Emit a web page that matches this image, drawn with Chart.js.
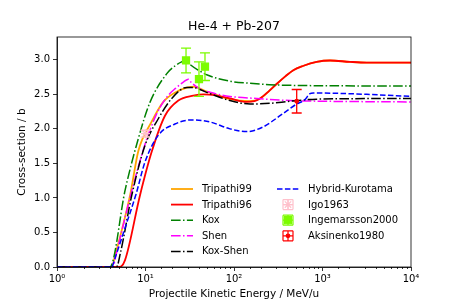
<!DOCTYPE html>
<html>
<head>
<meta charset="utf-8">
<script src="https://cdn.jsdelivr.net/npm/chart.js@4.4.0/dist/chart.umd.min.js"></script>
<style>
  body { margin: 0; background: #fff; }
  #grafico { display: block; }
</style>
</head>
<body>
<canvas id="grafico" width="457" height="305"></canvas>
<script>
// energias en MeV/u, secciones eficaces en b
const tri99E = [1, 4.15, 4.5, 6.7, 8.3, 11.7, 15.9, 22, 30, 36, 45, 60, 90, 150, 197, 250, 303, 380, 468, 600, 859, 1216, 2046, 3160, 10000];
const tri99S = [0, 0, 0.15, 1.04, 1.68, 2.10, 2.39, 2.53, 2.60, 2.61, 2.56, 2.50, 2.43, 2.40, 2.44, 2.55, 2.65, 2.76, 2.85, 2.91, 2.97, 2.99, 2.97, 2.96, 2.96];

const tri96E = [1, 5.06, 5.87, 8.67, 11.7, 16.6, 23.5, 34.7, 45, 60, 90, 139, 170, 197, 250, 303, 380, 468, 600, 859, 1216, 2046, 3160, 10000];
const tri96S = [0, 0, 0.1, 1.04, 1.66, 2.19, 2.41, 2.48, 2.50, 2.49, 2.44, 2.39, 2.40, 2.44, 2.55, 2.65, 2.76, 2.85, 2.91, 2.97, 2.99, 2.97, 2.96, 2.96];

const koxE = [1, 3.95, 5.9, 8.3, 11.2, 17.4, 22, 25.6, 28.7, 32, 39.5, 50, 90, 150, 250, 430, 10000];
const koxS = [0, 0, 1.12, 1.86, 2.38, 2.80, 2.92, 2.97, 2.99, 2.93, 2.85, 2.78, 2.69, 2.66, 2.64, 2.63, 2.62];

const shenE = [1, 4.3, 4.6, 6.8, 9.9, 13.4, 17.4, 22, 27, 30.5, 33, 41, 53.5, 90, 180, 430, 1000, 10000];
const shenS = [0, 0, 0.15, 1.04, 1.78, 2.22, 2.46, 2.59, 2.68, 2.72, 2.67, 2.58, 2.53, 2.47, 2.44, 2.41, 2.40, 2.39];

const koxShenE = [1, 4.7, 5.2, 7.0, 9.87, 14, 19.8, 29.2, 35, 41, 53.5, 90, 152, 255, 430, 859, 10000];
const koxShenS = [0, 0, 0.2, 1.04, 1.76, 2.15, 2.44, 2.60, 2.60, 2.57, 2.51, 2.41, 2.36, 2.37, 2.40, 2.43, 2.44];

const kurotamaE = [1, 4.15, 4.5, 6.1, 7.8, 9.87, 14, 21.5, 33, 53.5, 90, 139, 215, 331, 511, 631, 722, 787, 3160, 10000];
const kurotamaS = [0, 0, 0.12, 0.63, 1.05, 1.52, 1.91, 2.07, 2.13, 2.10, 2.00, 1.96, 2.03, 2.19, 2.36, 2.42, 2.51, 2.52, 2.50, 2.47];

// datos experimentales
const igoE = [10];
const igoS = [1.93];
const igoErr = [0.05];

const ingE = [28.7, 40.2, 47];
const ingS = [2.99, 2.72, 2.90];
const ingErr = [0.18, 0.25, 0.20];

const aksE = [511];
const aksS = [2.40];
const aksErr = [0.17];

const SUP = ['\u2070', '\u00b9', '\u00b2', '\u00b3', '\u2074'];
const DASHDOT = [9.6, 2.4, 1.5, 2.4];
const DASHED = [5.5, 2.4];

Chart.defaults.font.family = '"DejaVu Sans", sans-serif';
Chart.defaults.color = '#000';

function serie(label, xs, ys, color, dash, width, order) {
  return {
    label,
    data: xs.map((x, i) => ({ x, y: ys[i] })),
    borderColor: color,
    backgroundColor: color,
    borderDash: dash,
    borderWidth: width,
    pointRadius: 0,
    cubicInterpolationMode: 'monotone',
    fill: false,
    order
  };
}

function puntos(label, xs, ys, errs, color, estilo, radio, order) {
  return {
    label,
    data: xs.map((x, i) => ({ x, y: ys[i] })),
    errores: errs,
    showLine: false,
    borderColor: color,
    backgroundColor: color,
    pointStyle: estilo,
    pointRadius: radio,
    pointBorderWidth: 1.2,
    order
  };
}

const datasets = [
  serie('Tripathi99', tri99E, tri99S, '#ffa500', [], 1.8, 10),
  serie('Tripathi96', tri96E, tri96S, '#ff0000', [], 1.8, 9),
  serie('Kox', koxE, koxS, '#008000', DASHDOT, 1.5, 8),
  serie('Shen', shenE, shenS, '#ff00ff', DASHDOT, 1.5, 7),
  serie('Kox-Shen', koxShenE, koxShenS, '#000000', DASHDOT, 1.5, 6),
  serie('Hybrid-Kurotama', kurotamaE, kurotamaS, '#0000ff', DASHED, 1.5, 5),
  puntos('Igo1963', igoE, igoS, igoErr, '#ffc0cb', 'star', 4.5, 4),
  puntos('Ingemarsson2000', ingE, ingS, ingErr, '#7cfc00', 'rect', 5, 3),
  puntos('Aksinenko1980', aksE, aksS, aksErr, '#ff0000', 'circle', 1.8, 2)
];

function esDecada(v) {
  const l = Math.log10(v);
  return Math.abs(l - Math.round(l)) < 1e-9;
}

const extras = {
  id: 'extras',
  afterDatasetsDraw(chart) {
    const ctx = chart.ctx;
    const xs = chart.scales.x, ys = chart.scales.y;
    ctx.save();
    ctx.lineWidth = 1.3;
    ctx.setLineDash([]);
    chart.data.datasets.forEach(ds => {
      if (!ds.errores) return;
      ctx.strokeStyle = ds.borderColor;
      ds.data.forEach((p, j) => {
        const px = xs.getPixelForValue(p.x);
        const y1 = ys.getPixelForValue(p.y - ds.errores[j]);
        const y2 = ys.getPixelForValue(p.y + ds.errores[j]);
        ctx.beginPath();
        ctx.moveTo(px, y1); ctx.lineTo(px, y2);
        ctx.moveTo(px - 5, y1); ctx.lineTo(px + 5, y1);
        ctx.moveTo(px - 5, y2); ctx.lineTo(px + 5, y2);
        ctx.stroke();
      });
    });
    ctx.restore();
  },
  afterDraw(chart) {
    const ctx = chart.ctx;
    const area = chart.chartArea;
    const xs = chart.scales.x;
    ctx.save();
    // marco completo
    ctx.strokeStyle = '#000';
    ctx.lineWidth = 0.8;
    ctx.strokeRect(area.left, area.top, area.right - area.left, area.bottom - area.top);
    // ticks menores del eje log
    xs.ticks.forEach(t => {
      if (esDecada(t.value)) return;
      const px = Math.round(xs.getPixelForValue(t.value)) + 0.5;
      ctx.beginPath();
      ctx.moveTo(px, area.bottom);
      ctx.lineTo(px, area.bottom + 2);
      ctx.stroke();
    });
    dibujarLeyenda(chart);
    ctx.restore();
  }
};

function dibujarLeyenda(chart) {
  const ctx = chart.ctx;
  const area = chart.chartArea;
  const columnas = [area.right - 240, area.right - 134];
  const fila0 = area.bottom - 78;
  const paso = 15.6;
  ctx.font = '10px "DejaVu Sans"';
  ctx.textBaseline = 'middle';
  ctx.textAlign = 'left';
  chart.data.datasets.forEach((ds, i) => {
    const col = i < 5 ? 0 : 1;
    const fila = i < 5 ? i : i - 5;
    const x0 = columnas[col];
    const y = fila0 + fila * paso;
    if (!ds.errores) {
      ctx.strokeStyle = ds.borderColor;
      ctx.lineWidth = ds.borderWidth;
      ctx.setLineDash(ds.borderDash);
      ctx.beginPath();
      ctx.moveTo(x0, y);
      ctx.lineTo(x0 + 22, y);
      ctx.stroke();
      ctx.setLineDash([]);
    } else {
      const cx = x0 + 11;
      ctx.strokeStyle = ds.borderColor;
      ctx.lineWidth = 1.2;
      ctx.setLineDash([]);
      ctx.beginPath();
      ctx.moveTo(cx, y - 5); ctx.lineTo(cx, y + 5);
      ctx.moveTo(cx - 5, y); ctx.lineTo(cx + 5, y);
      ctx.moveTo(cx - 5, y - 5); ctx.lineTo(cx + 5, y - 5);
      ctx.moveTo(cx - 5, y + 5); ctx.lineTo(cx + 5, y + 5);
      ctx.moveTo(cx - 5, y - 5); ctx.lineTo(cx - 5, y + 5);
      ctx.moveTo(cx + 5, y - 5); ctx.lineTo(cx + 5, y + 5);
      ctx.stroke();
      ctx.fillStyle = ds.backgroundColor;
      Chart.helpers.drawPoint(ctx, {
        pointStyle: ds.pointStyle, radius: ds.pointRadius, rotation: 0, borderWidth: 1.2
      }, cx, y);
    }
    ctx.fillStyle = '#000';
    ctx.fillText(ds.label, x0 + 31, y + 0.5);
  });
}

new Chart(document.getElementById('grafico'), {
  type: 'line',
  data: { datasets },
  plugins: [extras],
  options: {
    responsive: false,
    animation: false,
    devicePixelRatio: 1,
    layout: { padding: { left: 11, right: 0, top: 0, bottom: 0 } },
    plugins: {
      legend: { display: false },
      tooltip: { enabled: false },
      title: {
        display: true,
        text: 'He-4 + Pb-207',
        color: '#000',
        font: { size: 12.5, weight: 'normal' },
        padding: { top: 19, bottom: 3 }
      }
    },
    scales: {
      x: {
        type: 'logarithmic',
        min: 1,
        max: 10000,
        afterFit: s => { s.height = 38; },
        border: { color: '#000', width: 0.8 },
        grid: {
          drawOnChartArea: false,
          tickLength: 4,
          tickWidth: 0.8,
          tickColor: c => (c.tick && esDecada(c.tick.value)) ? '#000' : 'rgba(0,0,0,0)'
        },
        ticks: {
          autoSkip: false,
          maxRotation: 0,
          padding: 2,
          font: { size: 10 },
          callback: v => esDecada(v) ? '10' + SUP[Math.round(Math.log10(v))] : ''
        },
        title: {
          display: true,
          text: 'Projectile Kinetic Energy / MeV/u',
          font: { size: 10.5 },
          padding: { top: 0, bottom: 4.7 }
        }
      },
      y: {
        min: 0,
        max: 3.33,
        afterFit: s => { s.width = 46; },
        border: { color: '#000', width: 0.8 },
        grid: { drawOnChartArea: false, tickLength: 4, tickWidth: 0.8, tickColor: '#000' },
        ticks: {
          stepSize: 0.5,
          includeBounds: false,
          padding: 3,
          font: { size: 10 },
          callback: v => v.toFixed(1)
        },
        title: {
          display: true,
          text: 'Cross-section / b',
          font: { size: 10.5 },
          padding: { top: 4.7, bottom: 0 }
        }
      },
      // eje vacio a la derecha, solo reserva el margen
      margen: {
        position: 'right',
        afterFit: s => { s.width = 46; },
        border: { display: false },
        grid: { display: false },
        ticks: { display: false }
      }
    }
  }
});
</script>
</body>
</html>
